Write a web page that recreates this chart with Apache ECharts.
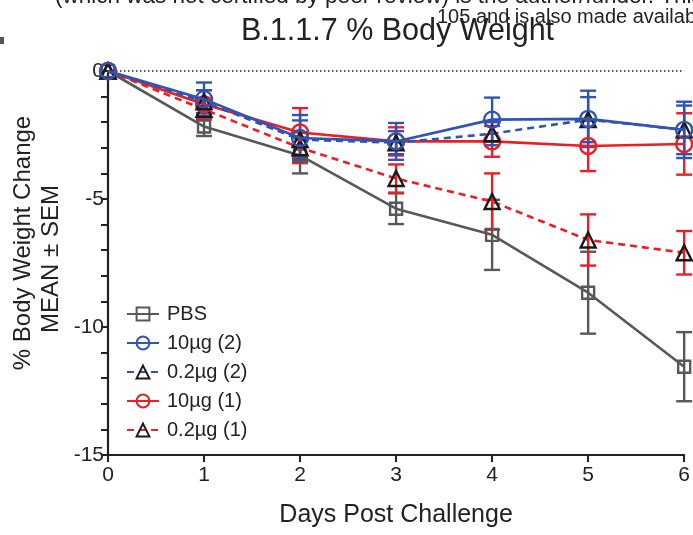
<!DOCTYPE html>
<html>
<head>
<meta charset="utf-8">
<style>
  html, body { margin: 0; padding: 0; background: #fff; }
  #chart { width: 693px; height: 535px; }
</style>
<script src="https://cdn.jsdelivr.net/npm/echarts@6/dist/echarts.min.js"></script>
</head>
<body>
<div id="chart"></div>
<script>
// Days after challenge
const days = [0, 1, 2, 3, 4, 5, 6];

// Mean % body weight change per group
const pbsMean      = [0, -2.17, -3.30, -5.38, -6.40, -8.66, -11.55];
const hi2Mean      = [0, -1.10, -2.62, -2.75, -1.90, -1.87, -2.30];
const lo2Mean      = [0, -1.20, -2.68, -2.80, -2.45, -1.90, -2.30];
const hi1Mean      = [0, -1.30, -2.40, -2.75, -2.75, -2.93, -2.85];
const lo1Mean      = [0, -1.50, -3.00, -4.20, -5.10, -6.60, -7.10];

// Standard error of the mean per group
const pbsSem       = [0, 0.37, 0.70, 0.60, 1.37, 1.60, 1.35];
const hi2Sem       = [0, 0.65, 0.90, 0.72, 0.86, 1.10, 1.10];
const lo2Sem       = [0, 0.45, 0.75, 0.45, 0.45, 0.88, 0.95];
const hi1Sem       = [0, 0.55, 0.95, 0.55, 0.60, 0.98, 1.20];
const lo1Sem       = [0, 0.40, 0.60, 0.55, 1.10, 1.00, 0.85];

const groupNames = ['PBS', '10µg (2)', '0.2µg (2)', '10µg (1)', '0.2µg (1)'];
const yTicks = [0, -5, -10, -15];

const FONT = '"Liberation Sans", Arial, Helvetica, sans-serif';
const GRAY = '#585858';
const BLUE = '#2f55b2';
const RED = '#ee1d25';
const BLACK = '#1a1a1a';
const CLEAR = 'rgba(255,255,255,0)';

const pairs = (ys) => days.map((d, i) => [d, ys[i]]);
const triples = (ys, es) => days.map((d, i) => [d, ys[i], es[i]]);

// Vertical mean ± SEM bars with caps
function errorSeries(name, ys, es, color, z) {
  return {
    type: 'custom',
    name: name + ' sem',
    z: z,
    silent: true,
    data: triples(ys, es),
    encode: { x: 0, y: [1, 2] },
    renderItem: function (params, api) {
      const x = api.value(0), m = api.value(1), e = api.value(2);
      if (!e) return null;
      const top = api.coord([x, m + e]);
      const bot = api.coord([x, m - e]);
      const hw = 8;
      const st = { stroke: color, lineWidth: 2.4 };
      return {
        type: 'group',
        children: [
          { type: 'line', shape: { x1: top[0], y1: top[1], x2: bot[0], y2: bot[1] }, style: st },
          { type: 'line', shape: { x1: top[0] - hw, y1: top[1], x2: top[0] + hw, y2: top[1] }, style: st },
          { type: 'line', shape: { x1: bot[0] - hw, y1: bot[1], x2: bot[0] + hw, y2: bot[1] }, style: st }
        ]
      };
    }
  };
}

function lineSeries(name, ys, lineColor, lineType, symbol, symbolSize, markColor, z) {
  return {
    type: 'line',
    name: name,
    z: z,
    data: pairs(ys),
    symbol: symbol,
    symbolSize: symbolSize,
    showAllSymbol: true,
    lineStyle: { color: lineColor, width: 2.6, type: lineType },
    itemStyle: { color: CLEAR, borderColor: markColor, borderWidth: 2.4 },
    emphasis: { disabled: true }
  };
}

const chart = echarts.init(document.getElementById('chart'), null, { renderer: 'canvas' });

const pbsLine = lineSeries(groupNames[0], pbsMean, GRAY, 'solid', 'rect', 12, GRAY, 3);
pbsLine.markLine = {
  silent: true,
  symbol: 'none',
  label: { show: false },
  lineStyle: { color: '#222', width: 1.6, type: [1.5, 2.5] },
  data: [{ yAxis: 0 }]
};

chart.setOption({
  animation: false,
  textStyle: { fontFamily: FONT },
  title: {
    text: 'B.1.1.7 % Body Weight',
    left: 236,
    top: 11,
    textStyle: { fontFamily: FONT, fontSize: 30.5, fontWeight: 'normal', color: '#222' }
  },
  graphic: [
    {
      type: 'text', left: 55, top: -15, silent: true,
      style: { text: '(which was not certified by peer review) is the author/funder. This article is a US Government work.', font: '22.5px ' + FONT, fill: '#222' }
    },
    {
      type: 'text', left: 437, top: 7, silent: true,
      style: { text: '105 and is also made available for use under a CC0 license.', font: '20px ' + FONT, fill: '#222' }
    },
    {
      type: 'rect', left: 0, top: 37, silent: true,
      shape: { width: 4, height: 7 }, style: { fill: '#555' }
    },
    {
      type: 'text', silent: true, x: 11, y: 243, rotation: Math.PI / 2,
      style: { text: '% Body Weight Change', font: '24px ' + FONT, fill: '#222', align: 'center', verticalAlign: 'top' }
    },
    {
      type: 'text', silent: true, x: 39, y: 259, rotation: Math.PI / 2,
      style: { text: 'MEAN ± SEM', font: '24px ' + FONT, fill: '#222', align: 'center', verticalAlign: 'top' }
    }
  ],
  legend: {
    orient: 'vertical',
    left: 121,
    top: 299,
    itemWidth: 32,
    itemHeight: 16,
    itemGap: 9,
    selectedMode: false,
    data: groupNames,
    textStyle: { fontFamily: FONT, fontSize: 20, color: '#222', padding: [0, 0, 0, 3] }
  },
  grid: { left: 108, right: 8, top: 71, bottom: 80, containLabel: false },
  xAxis: {
    type: 'value',
    min: 0, max: 6, interval: 1,
    name: 'Days Post Challenge',
    nameLocation: 'middle',
    nameGap: 48,
    nameTextStyle: { fontFamily: FONT, fontSize: 25, color: '#222' },
    axisLine: { onZero: false, lineStyle: { color: '#222', width: 2.2 } },
    axisTick: { show: true, length: 7, lineStyle: { color: '#222', width: 2 } },
    axisLabel: { fontFamily: FONT, fontSize: 21, color: '#222', margin: 10 },
    splitLine: { show: false }
  },
  yAxis: {
    type: 'value',
    min: -15, max: 0, interval: 5,
    axisLine: { show: true, lineStyle: { color: '#222', width: 2.2 } },
    axisTick: { show: true, length: 7, lineStyle: { color: '#222', width: 2 } },
    minorTick: { show: true, splitNumber: 5, length: 7, lineStyle: { color: '#222', width: 2 } },
    axisLabel: {
      fontFamily: FONT, fontSize: 21, color: '#222', margin: 4,
      formatter: (v) => (yTicks.indexOf(v) >= 0 ? String(v) : '')
    },
    splitLine: { show: false }
  },
  series: [
    errorSeries('PBS', pbsMean, pbsSem, GRAY, 1),
    errorSeries('lo1', lo1Mean, lo1Sem, RED, 1),
    errorSeries('hi1', hi1Mean, hi1Sem, RED, 1),
    errorSeries('lo2', lo2Mean, lo2Sem, BLUE, 1),
    errorSeries('hi2', hi2Mean, hi2Sem, BLUE, 1),
    pbsLine,
    lineSeries(groupNames[4], lo1Mean, RED, [7, 5], 'triangle', 15, BLACK, 4),
    lineSeries(groupNames[3], hi1Mean, RED, 'solid', 'circle', 16, RED, 5),
    lineSeries(groupNames[2], lo2Mean, BLUE, [7, 5], 'triangle', 15, BLACK, 6),
    lineSeries(groupNames[1], hi2Mean, BLUE, 'solid', 'circle', 16, BLUE, 7)
  ]
});
</script>
</body>
</html>
